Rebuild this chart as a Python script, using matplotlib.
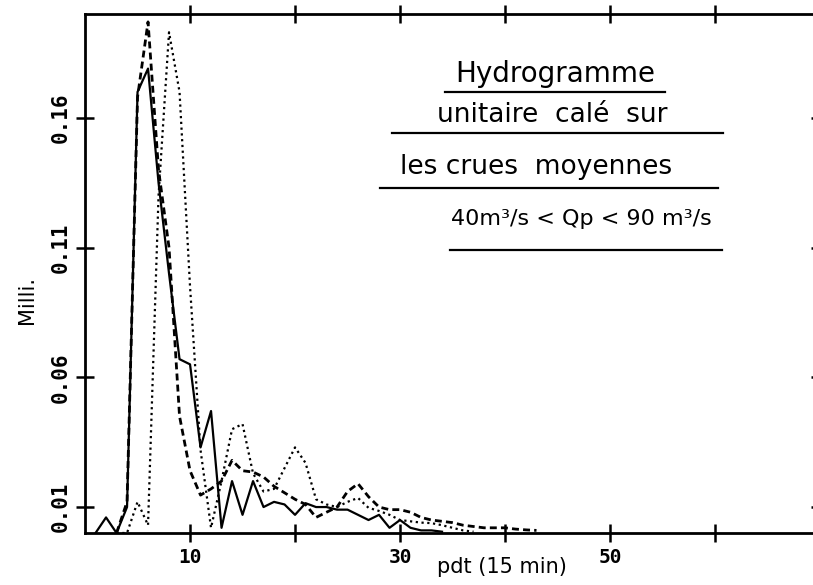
import numpy as np
import matplotlib.pyplot as plt

# pas de temps (15 min) et ordonnees des trois hydrogrammes unitaires
pdt = [0, 1, 2, 3, 4, 5, 6, 7, 8, 9, 10, 11, 12, 13, 14, 15, 16, 17, 18, 19, 20,
       21, 22, 23, 24, 25, 26, 27, 28, 29, 30, 31, 32, 33, 34, 35, 36, 37, 38,
       39, 40, 41, 42, 43]
nan = np.nan
h_trait = [nan, 0.0, 0.006, 0.0, 0.010, 0.170, 0.179, 0.135, 0.100, 0.067, 0.065,
           0.033, 0.047, 0.002, 0.020, 0.007, 0.020, 0.010, 0.012, 0.011, 0.007,
           0.0115, 0.010, 0.010, 0.009, 0.009, 0.007, 0.005, 0.007, 0.002, 0.005,
           0.002, 0.001, 0.001, 0.0005, nan, nan, nan, nan, nan, nan, nan, nan, nan]
h_tirets = [nan, nan, nan, 0.0, 0.012, 0.168, 0.197, 0.140, 0.110, 0.045, 0.024,
            0.0146, 0.017, 0.020, 0.028, 0.024, 0.0235, 0.0216, 0.018, 0.0155,
            0.013, 0.011, 0.006, 0.008, 0.010, 0.016, 0.019, 0.014, 0.010, 0.009,
            0.009, 0.008, 0.006, 0.005, 0.0045, 0.004, 0.003, 0.0025, 0.002,
            0.002, 0.002, 0.0015, 0.0012, 0.001]
h_points = [nan, nan, nan, 0.0, 0.0, 0.012, 0.003, 0.130, 0.193, 0.170, 0.095,
            0.032, 0.002, 0.020, 0.040, 0.042, 0.023, 0.016, 0.017, 0.025, 0.033,
            0.027, 0.013, 0.011, 0.010, 0.012, 0.0135, 0.0097, 0.0085, 0.007,
            0.005, 0.0045, 0.004, 0.0038, 0.003, 0.002, 0.001, 0.0005, nan, nan,
            nan, nan, nan, nan]

x_ticks = [10, 20, 30, 40, 50, 60]
x_labels = ['10', '', '30', '', '50', '']
y_ticks = [0.01, 0.06, 0.11, 0.16]
y_labels = ['0.01', '0.06', '0.11', '0.16']

titre = ['Hydrogramme', 'unitaire  calé  sur', 'les crues  moyennes',
         '40m³/s < Qp < 90 m³/s']

fig = plt.figure(figsize=(8.13, 5.85), dpi=100)
ax = fig.add_axes([0.1046, 0.0889, 0.904, 0.887])

ax.plot(pdt, h_trait, color='black', lw=1.6)
ax.plot(pdt, h_tirets, color='black', lw=2.0, ls=(0, (2.5, 1.5)))
ax.plot(pdt, h_points, color='black', lw=1.6, ls=(0, (1, 1.6)))

ax.set_xlim(0, 70)
ax.set_ylim(0, 0.2)
for s in ax.spines.values():
    s.set_linewidth(2)

ax.set_xticks(x_ticks)
ax.set_xticklabels(x_labels, fontfamily='DejaVu Sans Mono', fontweight='bold',
                   fontsize=14)
ax.set_yticks(y_ticks)
ax.set_yticklabels(y_labels, fontfamily='DejaVu Sans Mono', fontweight='bold',
                   fontsize=15, rotation=90, va='center')
ax.tick_params(direction='inout', length=13, width=1.8, pad=4,
               top=True, right=True)

fig.text(0.033, 0.488, 'Milli.', rotation=90, ha='center', va='center',
         fontsize=15)
fig.text(0.617, 0.030, 'pdt (15 min)', ha='center', va='center', fontsize=15)

# annotation manuscrite soulignee
lignes_y = [0.177, 0.161, 0.141, 0.121]
lignes_x = [44.8, 44.5, 43.0, 47.3]
tailles = [20, 19, 19, 16]
for txt, xx, yy, fs in zip(titre, lignes_x, lignes_y, tailles):
    ax.text(xx, yy, txt, ha='center', va='center', fontsize=fs)

soulignes = [(34.3, 55.2, 0.170), (29.2, 60.8, 0.154),
             (28.1, 60.3, 0.133), (34.8, 60.7, 0.109)]
for x0, x1, yy in soulignes:
    ax.plot([x0, x1], [yy, yy], color='black', lw=1.6)

fig.savefig('out.png', dpi=100)
